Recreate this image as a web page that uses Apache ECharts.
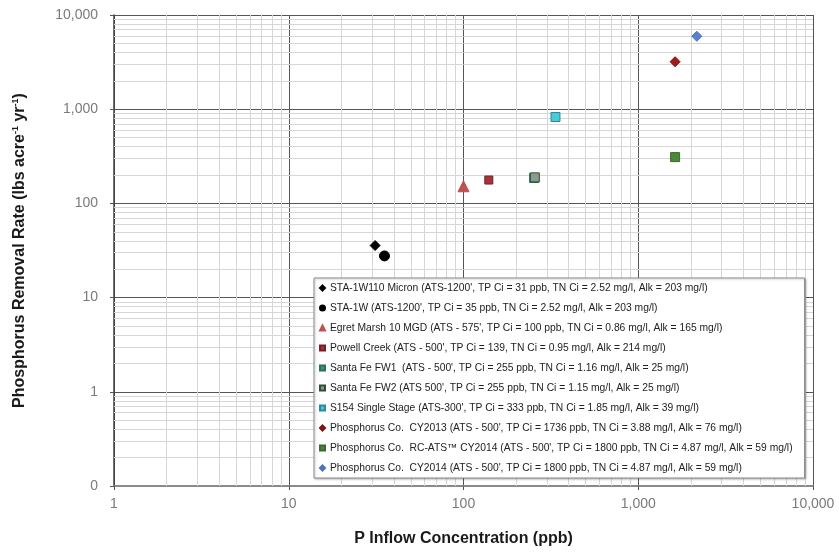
<!DOCTYPE html>
<html>
<head>
<meta charset="utf-8">
<script src="https://cdn.jsdelivr.net/npm/echarts@6/dist/echarts.min.js"></script>
<style>
html,body{margin:0;padding:0;background:#fff;}
#chart{width:839px;height:552px;}
</style>
</head>
<body>
<div id="chart"></div>
<script>
// ---- data ----
const seriesNames = [
  "STA-1W110 Micron (ATS-1200', TP Ci = 31 ppb, TN Ci = 2.52 mg/l, Alk = 203 mg/l)",
  "STA-1W (ATS-1200', TP Ci = 35 ppb, TN Ci = 2.52 mg/l, Alk = 203 mg/l)",
  "Egret Marsh 10 MGD (ATS - 575', TP Ci = 100 ppb, TN Ci = 0.86 mg/l, Alk = 165 mg/l)",
  "Powell Creek (ATS - 500', TP Ci = 139, TN Ci = 0.95 mg/l, Alk = 214 mg/l)",
  "Santa Fe FW1  (ATS - 500', TP Ci = 255 ppb, TN Ci = 1.16 mg/l, Alk = 25 mg/l)",
  "Santa Fe FW2 (ATS 500', TP Ci = 255 ppb, TN Ci = 1.15 mg/l, Alk = 25 mg/l)",
  "S154 Single Stage (ATS-300', TP Ci = 333 ppb, TN Ci = 1.85 mg/l, Alk = 39 mg/l)",
  "Phosphorus Co.  CY2013 (ATS - 500', TP Ci = 1736 ppb, TN Ci = 3.88 mg/l, Alk = 76 mg/l)",
  "Phosphorus Co.  RC-ATS\u2122 CY2014 (ATS - 500', TP Ci = 1800 ppb, TN Ci = 4.87 mg/l, Alk = 59 mg/l)",
  "Phosphorus Co.  CY2014 (ATS - 500', TP Ci = 1800 ppb, TN Ci = 4.87 mg/l, Alk = 59 mg/l)"
];
const pInflow = [31.2, 35.3, 100, 139.6, 253.6, 256, 336, 1625, 1625, 2163];
const removalRate = [35.7, 27.7, 152, 177, 186, 189, 826, 3192, 310, 5945];
const xTicks = [1, 10, 100, 1000, 10000];
const yTicks = [0.1, 1, 10, 100, 1000, 10000];

// ---- styles ----
const symbols = ['diamond','circle','triangle','rect','rect','rect','rect','diamond','rect','diamond'];
const sizes = [10, 10, 11, 8, 9, 9, 9, 10, 9, 10];
const fills = ['#000000','#000000','#c0504d','#a5333b','#2f9e7a','#8c9c8c','#4cc9d6','#a01c1c','#4a8a3a','#5a7fd0'];
const borders = ['#000000','#000000','#c0504d','#7a1f25','#2f6f55','#2f4f3a','#2a8a9a','#801010','#3a6a2a','#4a6fc0'];

// minor grid positions (2..9 in each decade)
const minorX = [], minorY = [];
for (let d = 1; d < 10000; d *= 10) for (let k = 2; k <= 9; k++) minorX.push(+(k * d).toPrecision(3));
for (let d = 0.1; d < 10000; d *= 10) for (let k = 2; k <= 9; k++) minorY.push(+(k * d).toPrecision(3));

function fmt(v) {
  if (v < 0.999) return '0';
  const n = Math.round(v);
  return n.toString().replace(/\B(?=(\d{3})+(?!\d))/g, ',');
}

const chart = echarts.init(document.getElementById('chart'), null, {renderer: 'canvas'});

const series = [{
  type: 'scatter',
  data: [],
  silent: true,
  z: 1,
  markLine: {
    silent: true,
    z: 1,
    symbol: 'none',
    animation: false,
    label: {show: false},
    lineStyle: {color: '#d6d6d6', width: 1, type: 'solid'},
    emphasis: {disabled: true},
    data: minorX.map(v => ({xAxis: v})).concat(minorY.map(v => ({yAxis: v})))
  }
}];
seriesNames.forEach((name, i) => {
  series.push({
    type: 'scatter',
    name: name,
    z: 3,
    symbol: symbols[i],
    symbolSize: sizes[i],
    itemStyle: {color: fills[i], borderColor: borders[i], borderWidth: 1, opacity: 1},
    data: [[pInflow[i], removalRate[i]]]
  });
});

chart.setOption({
  animation: false,
  backgroundColor: '#ffffff',
  grid: {left: 114, right: 26, top: 15, bottom: 63, show: false},
  legend: {
    data: seriesNames,
    orient: 'vertical',
    left: 314,
    top: 278,
    z: 10,
    padding: [4, 12, 4, 5],
    itemGap: 8,
    itemWidth: 5,
    itemHeight: 5,
    backgroundColor: '#ffffff',
    borderColor: '#8c8c8c',
    borderWidth: 1,
    shadowColor: 'rgba(0,0,0,0.25)',
    shadowBlur: 2,
    shadowOffsetX: 1,
    shadowOffsetY: 1,
    selectedMode: false,
    textStyle: {fontFamily: 'Liberation Sans, Arial', fontSize: 10.3, color: '#222', lineHeight: 12}
  },
  xAxis: {
    type: 'log',
    logBase: 10,
    min: xTicks[0],
    max: xTicks[xTicks.length - 1],
    name: 'P Inflow Concentration (ppb)',
    nameLocation: 'middle',
    nameGap: 45,
    nameTextStyle: {fontFamily: 'Liberation Sans, Arial', fontSize: 16, fontWeight: 'bold', color: '#1a1a1a'},
    axisLine: {show: true, onZero: false, lineStyle: {color: '#8a8a8a', width: 2}},
    axisTick: {show: true, length: 4, lineStyle: {color: '#555'}},
    axisLabel: {formatter: fmt, fontFamily: 'Liberation Sans, Arial', fontSize: 14, color: '#7a7a7a', margin: 11},
    splitLine: {show: true, lineStyle: {color: '#555555', width: 1}}
  },
  yAxis: {
    type: 'log',
    logBase: 10,
    min: yTicks[0],
    max: yTicks[yTicks.length - 1],
    name: 'Phosphorus Removal Rate (lbs acre{s|-1} yr{s|-1})',
    nameLocation: 'middle',
    nameGap: 86,
    nameTextStyle: {fontFamily: 'Liberation Sans, Arial', fontSize: 16, fontWeight: 'bold', color: '#1a1a1a',
      rich: {s: {fontSize: 9, fontWeight: 'bold', verticalAlign: 'top', fontFamily: 'Liberation Sans, Arial', color: '#1a1a1a', padding: [0, 0, 8, 0]}}},
    axisLine: {show: true, onZero: false, lineStyle: {color: '#404040', width: 1.5}},
    axisTick: {show: true, length: 4, lineStyle: {color: '#555'}},
    axisLabel: {formatter: fmt, fontFamily: 'Liberation Sans, Arial', fontSize: 14, color: '#7a7a7a', margin: 16},
    splitLine: {show: true, lineStyle: {color: '#555555', width: 1}}
  },
  series: series
});
</script>
</body>
</html>
